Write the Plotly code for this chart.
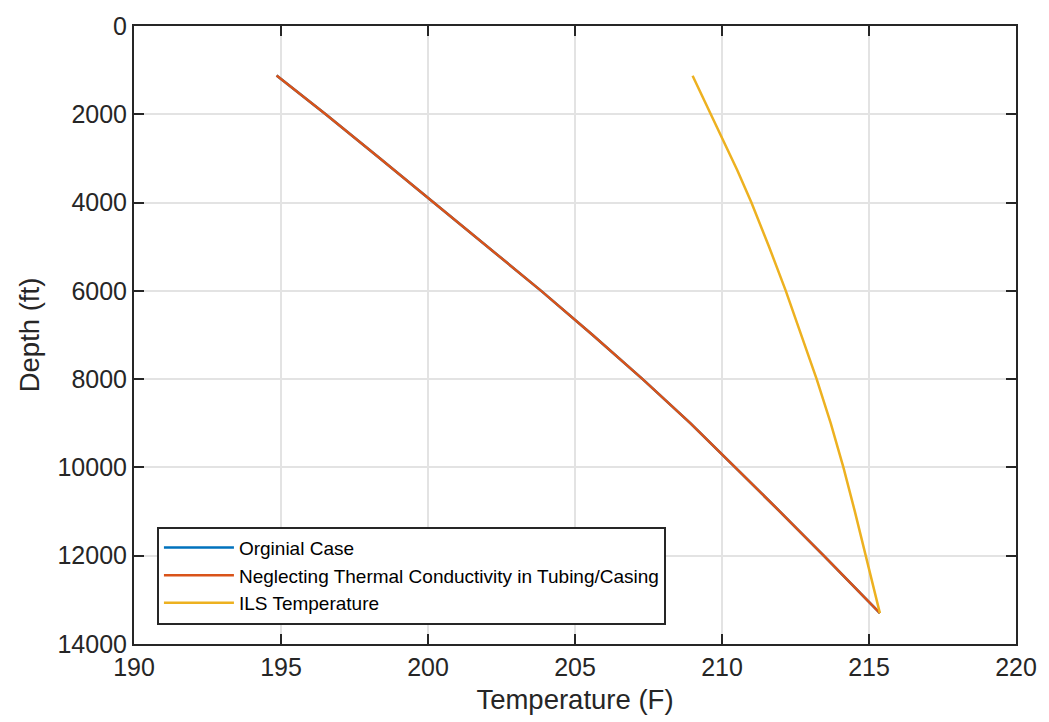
import plotly.graph_objects as go

# Depth (ft) and temperature (F) along the well
depth_model = [1120, 2000, 3000, 4000, 5000, 6000, 7000, 8000, 9000, 10000, 11000, 12000, 13000, 13300]
temp_original = [194.85, 196.52, 198.37, 200.2, 202.03, 203.85, 205.6, 207.3, 208.93, 210.46, 211.97, 213.46, 214.93, 215.37]
temp_no_conductivity = [194.85, 196.52, 198.37, 200.2, 202.03, 203.85, 205.6, 207.3, 208.93, 210.46, 211.97, 213.46, 214.93, 215.37]

depth_ils = [1126, 2000, 2500, 3268, 4000, 5000, 6000, 7000, 8000, 9000, 10000, 11000, 12000, 13300]
temp_ils = [209.0, 209.62, 209.98, 210.52, 211.0, 211.6, 212.17, 212.7, 213.22, 213.7, 214.13, 214.52, 214.9, 215.37]

series_names = ["Orginial Case", "Neglecting Thermal Conductivity in Tubing/Casing", "ILS Temperature"]
series_colors = ["#0072BD", "#D95319", "#EDB120"]

x_ticks = [190, 195, 200, 205, 210, 215, 220]
y_ticks = [0, 2000, 4000, 6000, 8000, 10000, 12000, 14000]

FONT = "Arial, Liberation Sans, Helvetica, sans-serif"
AXIS_COLOR = "#262626"

fig = go.Figure()
for name, color, xs, ys in zip(
    series_names,
    series_colors,
    [temp_original, temp_no_conductivity, temp_ils],
    [depth_model, depth_model, depth_ils],
):
    fig.add_trace(go.Scatter(x=xs, y=ys, mode="lines", name=name,
                             line=dict(color=color, width=2.5)))

axis_common = dict(
    showline=True, linecolor=AXIS_COLOR, linewidth=2, mirror="ticks",
    ticks="inside", ticklen=10, tickwidth=2, tickcolor=AXIS_COLOR,
    showgrid=True, gridcolor="#e3e3e3", gridwidth=2, zeroline=False,
    tickfont=dict(family=FONT, size=25, color=AXIS_COLOR),
)

fig.update_xaxes(
    range=[190, 220], tickvals=x_ticks, ticktext=[str(v) for v in x_ticks],
    title=dict(text="Temperature (F)", font=dict(family=FONT, size=27.5, color=AXIS_COLOR), standoff=10),
    **axis_common,
)
fig.update_yaxes(
    range=[14000, 0], tickvals=y_ticks, ticktext=[str(v) for v in y_ticks],
    title=dict(text="Depth (ft)", font=dict(family=FONT, size=27.5, color=AXIS_COLOR), standoff=10),
    **axis_common,
)

fig.update_layout(
    width=1049, height=722,
    margin=dict(l=134, r=27, t=21, b=75),
    paper_bgcolor="white", plot_bgcolor="white",
    showlegend=True,
    legend=dict(
        x=0.026, y=0.19, xanchor="left", yanchor="top",
        bgcolor="white", bordercolor=AXIS_COLOR, borderwidth=2,
        font=dict(family=FONT, size=19, color="black"),
        itemwidth=70, tracegroupgap=0,
    ),
)

fig.write_html("out.html")
